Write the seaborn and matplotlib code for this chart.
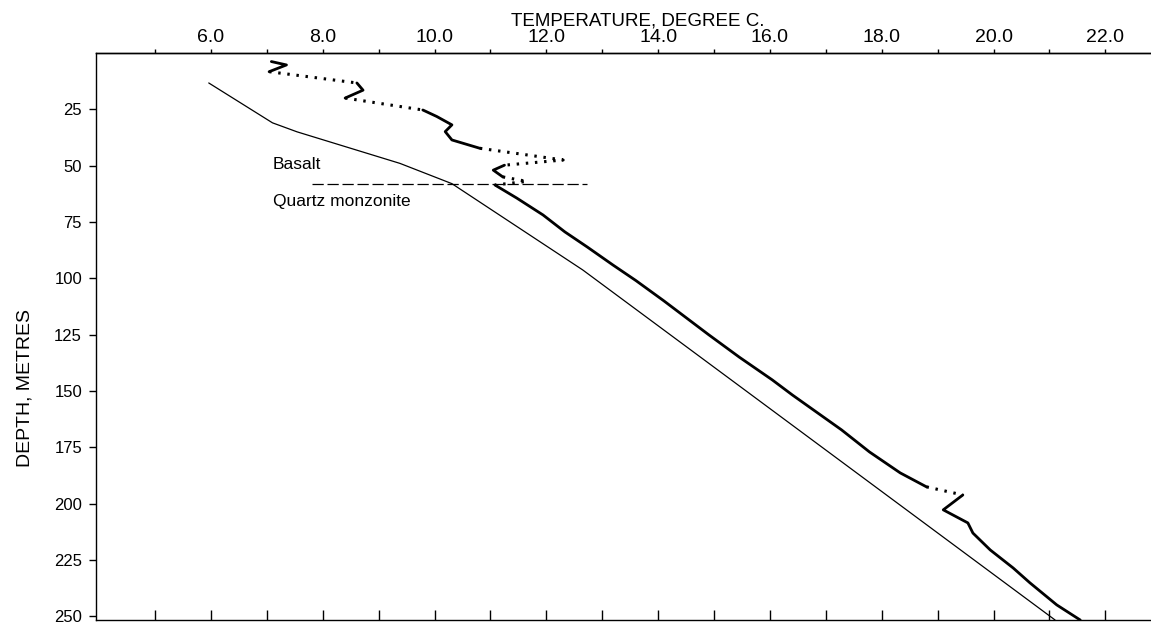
import matplotlib
matplotlib.use("Agg")
import matplotlib.pyplot as plt
import seaborn as sns
import pandas as pd
from matplotlib.ticker import FixedLocator

sns.set_theme(style="ticks")
plt.rcParams["font.family"] = ["Liberation Sans", "DejaVu Sans"]
plt.rcParams["axes.edgecolor"] = "black"
plt.rcParams["xtick.color"] = "black"
plt.rcParams["ytick.color"] = "black"
plt.rcParams["xtick.labelcolor"] = "black"
plt.rcParams["ytick.labelcolor"] = "black"
plt.rcParams["text.color"] = "black"

# ---------------- data ----------------
temp_major_ticks = [6, 8, 10, 12, 14, 16, 18, 20, 22]
temp_tick_labels = ["6.0", "8.0", "10.0", "12.0", "14.0", "16.0", "18.0", "20.0", "22.0"]
temp_minor_ticks = [5, 7, 9, 11, 13, 15, 17, 19, 21]
bottom_ticks = [5, 6, 7, 8, 9, 10, 11, 12, 13, 14, 15, 16, 17, 18, 19, 20, 21, 22]
depth_ticks = [25, 50, 75, 100, 125, 150, 175, 200, 225, 250]
depth_tick_labels = ["25", "50", "75", "100", "125", "150", "175", "200", "225", "250"]

# thin (reference / gradient) line
ref_temp = [5.96, 7.10, 7.54, 9.38, 10.31, 12.65, 15.30, 21.10]
ref_depth = [13.3, 31.0, 35.0, 49.0, 58.0, 96.3, 145.0, 251.7]

# measured temperature profile (thick line)
prof_temp = [7.08, 7.35, 7.04, 8.61, 8.72, 8.40, 9.79, 10.04, 10.31, 10.19,
             10.31, 10.81, 12.30, 11.25, 11.05, 11.22, 11.65, 11.08, 11.47, 11.94,
             12.33, 12.73, 13.19, 13.60, 14.10, 14.90, 15.45, 16.04, 16.40, 17.28,
             17.78, 18.33, 18.80, 19.45, 19.10, 19.54, 19.63, 19.94, 20.35, 20.65,
             21.13, 21.55]
prof_depth = [3.8, 5.3, 8.3, 13.3, 16.5, 20.0, 25.3, 28.2, 31.9, 34.9,
              38.6, 42.3, 47.5, 49.8, 52.0, 55.0, 57.0, 58.6, 64.4, 71.9,
              79.4, 86.1, 94.1, 101.0, 110.0, 125.0, 135.0, 145.1, 151.8, 167.3,
              177.1, 186.4, 192.6, 196.2, 202.8, 208.6, 213.1, 220.6, 228.6, 235.2,
              245.0, 251.7]

contact_temp = [7.81, 12.73]
contact_depth = [58.1, 58.1]

label_basalt = "Basalt"
label_qm = "Quartz monzonite"
x_title = "TEMPERATURE, DEGREE C."
y_title = "DEPTH, METRES"

# ---------------- figure ----------------
W, H = 1151, 629
fig = plt.figure(figsize=(W / 100, H / 100), dpi=100)
ax = fig.add_axes([96 / W, 1 - 620 / H, 1 - 96 / W, (620 - 53) / H])

# segments of the measured profile: (start, end, dotted)
segments = [(0, 2, False), (2, 3, True), (3, 5, False), (5, 6, True), (6, 11, False),
            (11, 13, True), (13, 15, False), (15, 17, True), (17, 32, False),
            (32, 33, True), (33, 41, False)]
prof = pd.DataFrame({"temp": prof_temp, "depth": prof_depth})
for s, e, dotted in segments:
    seg = prof.iloc[s:e + 1]
    sns.lineplot(data=seg, x="temp", y="depth", sort=False, estimator=None, ax=ax,
                 color="black", lw=2.0 if not dotted else 2.2,
                 linestyle=(0, (0.8, 2.2)) if dotted else "-")

ref = pd.DataFrame({"temp": ref_temp, "depth": ref_depth})
sns.lineplot(data=ref, x="temp", y="depth", sort=False, estimator=None, ax=ax,
             color="black", lw=0.9)

contact = pd.DataFrame({"temp": contact_temp, "depth": contact_depth})
sns.lineplot(data=contact, x="temp", y="depth", sort=False, estimator=None, ax=ax,
             color="black", lw=0.9, linestyle=(0, (9, 3)))

ax.text(7.11, 49.7, label_basalt, fontsize=12.5, va="center", ha="left")
ax.text(7.11, 66.1, label_qm, fontsize=12.5, va="center", ha="left")

ax.set_xlim(3.943, 22.816)
ax.set_ylim(251.7, 0)

# left axis
ax.set_yticks(depth_ticks)
ax.set_yticklabels(depth_tick_labels, fontsize=12)
ax.tick_params(axis="y", direction="out", length=5, width=1, pad=5)

# bottom axis: unlabelled inward ticks
ax.xaxis.set_major_locator(FixedLocator(bottom_ticks))
ax.tick_params(axis="x", which="major", direction="in", length=7, width=1,
               bottom=True, top=False, labelbottom=False)
ax.set_xlabel("")
ax.set_ylabel("")

# top axis: labelled
top = ax.secondary_xaxis("top")
top.set_xticks(temp_major_ticks)
top.set_xticklabels(temp_tick_labels, fontsize=14)
top.xaxis.set_minor_locator(FixedLocator(temp_minor_ticks))
top.tick_params(axis="x", which="major", direction="out", length=3, width=1, pad=2)
top.tick_params(axis="x", which="minor", direction="out", length=3, width=1)
top.spines["top"].set_linewidth(1)

for side in ["left", "bottom", "top"]:
    ax.spines[side].set_linewidth(1)
ax.spines["right"].set_visible(False)

fig.text(638 / W, 1 - 21 / H, x_title, fontsize=13.5, ha="center", va="center")
fig.text(25 / W, 1 - 388 / H, y_title, fontsize=14, ha="center", va="center", rotation=90)

fig.savefig("out.png", dpi=100)
